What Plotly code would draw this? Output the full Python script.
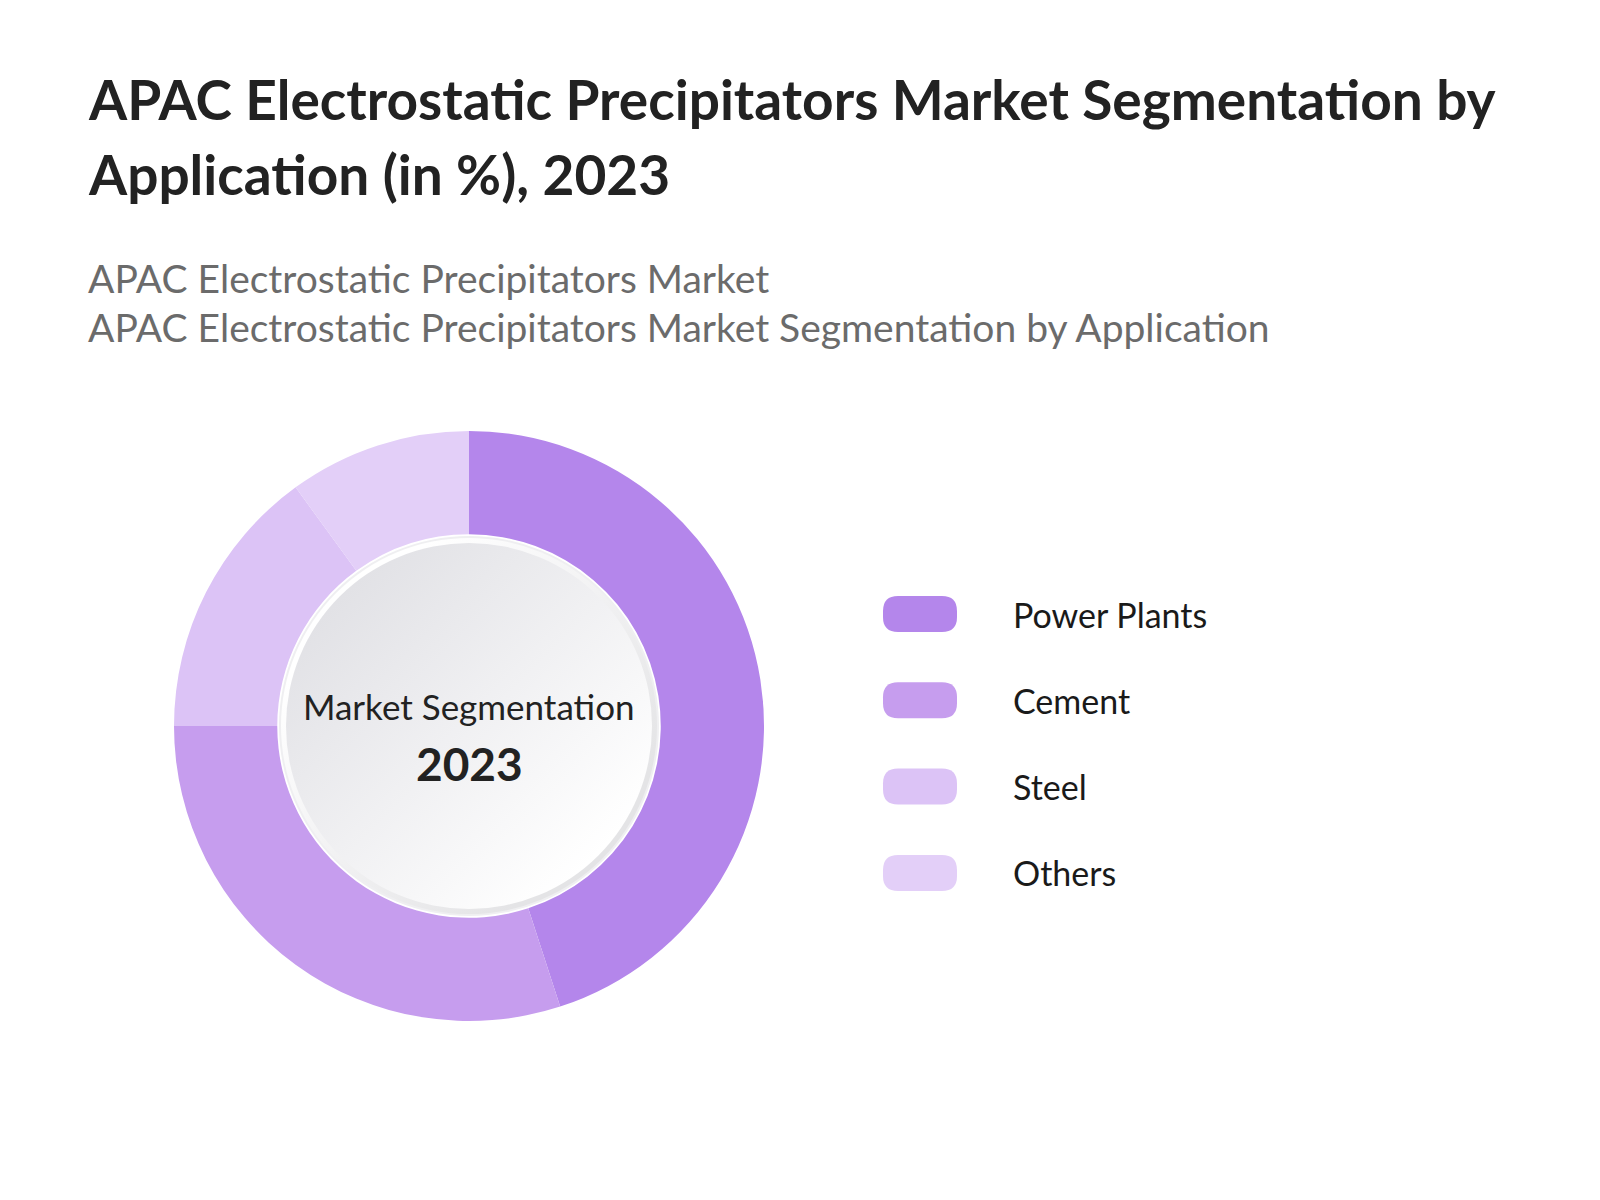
import base64
import plotly.graph_objects as go

# DATA
segments = ["Power Plants", "Cement", "Steel", "Others"]
shares = [45, 30, 15, 10]
colors = ["#b486eb", "#c69dee", "#dcc3f6", "#e3cff8"]

title_lines = [
    "APAC Electrostatic Precipitators Market Segmentation by",
    "Application (in %), 2023",
]
subtitle_lines = [
    "APAC Electrostatic Precipitators Market",
    "APAC Electrostatic Precipitators Market Segmentation by Application",
]
center_label = "Market Segmentation"
center_year = "2023"

W, H = 1600, 1200


def px(x):
    return x / W


def py(y):
    return 1 - y / H


# donut geometry in pixels
cx, cy, r = 461, 718, 295

fig = go.Figure()
fig.add_trace(
    go.Pie(
        labels=segments,
        values=shares,
        hole=0.65,
        sort=False,
        direction="clockwise",
        rotation=0,
        marker=dict(colors=colors, line=dict(width=0)),
        textinfo="none",
        hoverinfo="label+percent",
        showlegend=False,
        domain=dict(x=[px(cx - r), px(cx + r)], y=[py(cy + r), py(cy - r)]),
    )
)

# inner disc with soft gradient
svg = """<svg xmlns='http://www.w3.org/2000/svg' width='400' height='400' viewBox='0 0 400 400'>
<defs>
<linearGradient id='g' x1='0.15' y1='0.15' x2='0.85' y2='0.85'>
<stop offset='0' stop-color='#e2e2e6'/><stop offset='1' stop-color='#ffffff'/></linearGradient>
<linearGradient id='rim' x1='0.2' y1='0.2' x2='0.8' y2='0.8'>
<stop offset='0' stop-color='#ffffff'/><stop offset='1' stop-color='#e4e4e6'/></linearGradient>
</defs>
<circle cx='200' cy='200' r='190' fill='#efeff1'/>
<circle cx='200' cy='200' r='188' fill='url(#rim)'/>
<circle cx='200' cy='200' r='183' fill='url(#g)'/>
</svg>"""
src = "data:image/svg+xml;base64," + base64.b64encode(svg.encode()).decode()
fig.add_layout_image(
    dict(
        source=src,
        xref="paper",
        yref="paper",
        x=px(cx - 200),
        y=py(cy - 200),
        sizex=400 / W,
        sizey=400 / H,
        xanchor="left",
        yanchor="top",
        sizing="stretch",
        layer="above",
    )
)

annotations = []


def add_text(text, x, baseline, size, color, weight=400, anchor="left"):
    annotations.append(
        dict(
            text=text,
            x=px(x),
            y=py(baseline - 0.36 * size),
            xref="paper",
            yref="paper",
            xanchor=anchor,
            yanchor="middle",
            showarrow=False,
            font=dict(family="Lato", size=size, color=color, weight=weight),
        )
    )


# title & subtitle
for i, line in enumerate(title_lines):
    add_text(line, 78, 111 + i * 75, 55, "#222222", weight=700)
for i, line in enumerate(subtitle_lines):
    add_text(line, 78, 284 + i * 49, 39, "#6b6b6b")

# center labels
add_text(center_label, cx, 711, 35, "#222222", anchor="center")
add_text(center_year, cx, 772, 46, "#222222", weight=700, anchor="center")

# custom legend: rounded swatches + labels
shapes = []
sw_x0, sw_w, sw_h, rad = 875, 74, 36, 15
for i, (name, col) in enumerate(zip(segments, colors)):
    yc = 606 + i * 86.3
    x0, x1 = sw_x0, sw_x0 + sw_w
    y0, y1 = yc - sw_h / 2, yc + sw_h / 2
    path = (
        f"M {px(x0 + rad)} {py(y0)} L {px(x1 - rad)} {py(y0)} "
        f"Q {px(x1)} {py(y0)} {px(x1)} {py(y0 + rad)} "
        f"L {px(x1)} {py(y1 - rad)} Q {px(x1)} {py(y1)} {px(x1 - rad)} {py(y1)} "
        f"L {px(x0 + rad)} {py(y1)} Q {px(x0)} {py(y1)} {px(x0)} {py(y1 - rad)} "
        f"L {px(x0)} {py(y0 + rad)} Q {px(x0)} {py(y0)} {px(x0 + rad)} {py(y0)} Z"
    )
    shapes.append(
        dict(
            type="path",
            path=path,
            xref="paper",
            yref="paper",
            fillcolor=col,
            line=dict(width=0),
        )
    )
    add_text(name, 1003, yc + 0.36 * 34, 34, "#1a1a1a")

fig.update_layout(
    width=W,
    height=H,
    margin=dict(l=0, r=0, t=0, b=0),
    paper_bgcolor="white",
    plot_bgcolor="white",
    annotations=annotations,
    shapes=shapes,
    showlegend=False,
)

fig.write_html("out.html")
